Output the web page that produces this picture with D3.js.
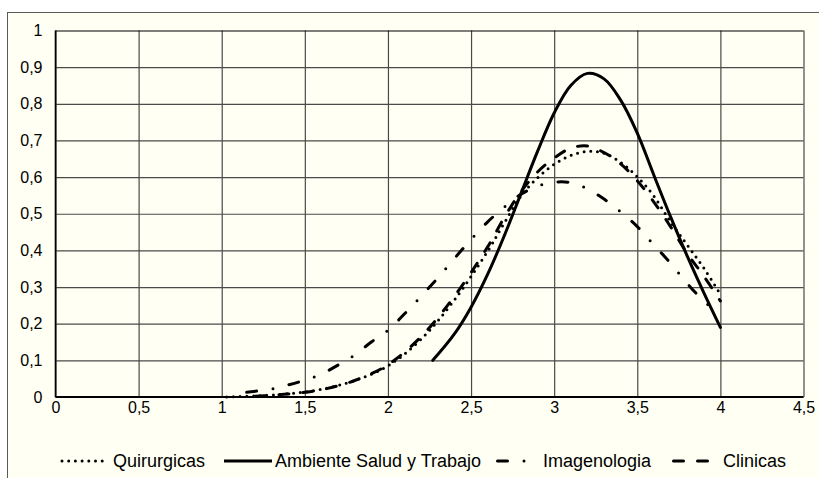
<!DOCTYPE html>
<html><head><meta charset="utf-8">
<script src="https://cdn.jsdelivr.net/npm/d3@7"></script>
<style>
html,body{margin:0;padding:0;background:#fff;}
svg{display:block;}
text{font-family:"Liberation Sans",Arial,Helvetica,sans-serif;fill:#000;}
</style></head><body>
<svg id="chart" width="819" height="478"></svg>
<script>
// ---- data ----
const xTicks = [0, 0.5, 1, 1.5, 2, 2.5, 3, 3.5, 4, 4.5];
const xTickLabels = ["0", "0,5", "1", "1,5", "2", "2,5", "3", "3,5", "4", "4,5"];
const yTicks = [0, 0.1, 0.2, 0.3, 0.4, 0.5, 0.6, 0.7, 0.8, 0.9, 1];
const yTickLabels = ["0", "0,1", "0,2", "0,3", "0,4", "0,5", "0,6", "0,7", "0,8", "0,9", "1"];
const seriesNames = ["Quirurgicas", "Ambiente Salud y Trabajo", "Imagenologia", "Clinicas"];

const quirurgicasX = [1.03, 1.2, 1.4, 1.6, 1.8, 2.0, 2.2, 2.4, 2.6, 2.7, 2.8, 2.9, 3.0, 3.1, 3.2, 3.3, 3.4, 3.5, 3.6, 3.7, 3.8, 3.9, 4.0];
const quirurgicasY = [0, 0.003, 0.009, 0.021, 0.045, 0.085, 0.158, 0.265, 0.398, 0.475, 0.548, 0.598, 0.635, 0.659, 0.670, 0.665, 0.640, 0.601, 0.548, 0.478, 0.415, 0.352, 0.28];

const ambienteX = [2.27, 2.4, 2.5, 2.6, 2.7, 2.8, 2.9, 3.0, 3.1, 3.2, 3.3, 3.4, 3.5, 3.6, 3.7, 3.8, 3.9, 4.0];
const ambienteY = [0.10, 0.172, 0.245, 0.335, 0.44, 0.555, 0.67, 0.775, 0.85, 0.883, 0.868, 0.81, 0.72, 0.605, 0.492, 0.385, 0.285, 0.19];

const imagenologiaX = [1.15, 1.3, 1.4, 1.5, 1.6, 1.7, 1.8, 1.9, 2.0, 2.1, 2.2, 2.3, 2.4, 2.5, 2.6, 2.7, 2.8, 2.9, 3.0, 3.1, 3.2, 3.3, 3.4, 3.5, 3.6, 3.7, 3.8, 3.9, 4.0];
const imagenologiaY = [0.013, 0.022, 0.033, 0.046, 0.063, 0.087, 0.115, 0.15, 0.182, 0.227, 0.275, 0.325, 0.378, 0.43, 0.478, 0.518, 0.553, 0.575, 0.586, 0.585, 0.568, 0.54, 0.505, 0.465, 0.415, 0.365, 0.31, 0.262, 0.225];

const clinicasX = [1.2, 1.4, 1.6, 1.8, 2.0, 2.2, 2.4, 2.6, 2.7, 2.8, 2.9, 3.0, 3.1, 3.2, 3.3, 3.4, 3.5, 3.6, 3.7, 3.8, 3.9, 4.0];
const clinicasY = [0.002, 0.008, 0.02, 0.045, 0.088, 0.165, 0.275, 0.41, 0.49, 0.56, 0.614, 0.652, 0.679, 0.685, 0.667, 0.636, 0.59, 0.532, 0.465, 0.392, 0.33, 0.262];

// ---- layout ----
const svg = d3.select("#chart");
const plot = {left: 55.5, right: 803.5, top: 30.5, bottom: 397};
const bg = "#FFFFF3";

svg.append("rect").attr("x", 7.5).attr("y", 12.5).attr("width", 840).attr("height", 500)
  .attr("fill", bg).attr("stroke", "#5a5a5a").attr("stroke-width", 1);

const x = d3.scaleLinear().domain([0, 4.5]).range([plot.left, plot.right]);
const y = d3.scaleLinear().domain([0, 1]).range([plot.bottom, plot.top]);

// vertical grid + x labels
const xAxis = d3.axisBottom(x).tickValues(xTicks)
  .tickFormat((d, i) => xTickLabels[i])
  .tickSize(-(plot.bottom - plot.top)).tickPadding(5);
const gx = svg.append("g").attr("transform", `translate(0,${plot.bottom})`).call(xAxis);
gx.select(".domain").remove();
gx.selectAll("line").attr("stroke", "#4a4a4a").attr("stroke-width", 1.2);
gx.selectAll("text").attr("font-size", 16).attr("font-family", '"Liberation Sans",Arial,sans-serif').attr("fill", "#000");

// horizontal grid + y labels
const yAxis = d3.axisLeft(y).tickValues(yTicks)
  .tickFormat((d, i) => yTickLabels[i])
  .tickSize(-(plot.right - plot.left)).tickPadding(13);
const gy = svg.append("g").attr("transform", `translate(${plot.left},0)`).call(yAxis);
gy.select(".domain").remove();
gy.selectAll("line").attr("stroke", "#4a4a4a").attr("stroke-width", 1.2);
gy.selectAll(".tick").filter(d => d === 1).select("line").attr("stroke", "#000");
gy.selectAll("text").attr("font-size", 16).attr("font-family", '"Liberation Sans",Arial,sans-serif').attr("fill", "#000");

// axis lines
svg.append("line").attr("x1", plot.left).attr("x2", plot.left).attr("y1", plot.top).attr("y2", plot.bottom)
  .attr("stroke", "#000").attr("stroke-width", 1.6);
svg.append("line").attr("x1", plot.left).attr("x2", plot.right).attr("y1", plot.bottom).attr("y2", plot.bottom)
  .attr("stroke", "#000").attr("stroke-width", 2.2);

// series
const styles = [
  {dash: "0 6.7"},
  {dash: null},
  {dash: "10 16.5 0 16.5"},
  {dash: "10 14"}
];
const seriesData = [
  d3.zip(quirurgicasX, quirurgicasY),
  d3.zip(ambienteX, ambienteY),
  d3.zip(imagenologiaX, imagenologiaY),
  d3.zip(clinicasX, clinicasY)
];
const line = d3.line().x(d => x(d[0])).y(d => y(d[1])).curve(d3.curveCatmullRom.alpha(0.5));
seriesData.forEach((data, i) => {
  svg.append("path").datum(data).attr("d", line)
    .attr("fill", "none").attr("stroke", "#000").attr("stroke-width", 3)
    .attr("stroke-linecap", "round").attr("stroke-linejoin", "round")
    .attr("stroke-dasharray", styles[i].dash);
});

// legend
const legendY = 461;
const legendLayout = [
  {x1: 62, x2: 105, tx: 113},
  {x1: 224, x2: 272, tx: 275},
  {x1: 497.5, x2: 539, tx: 543},
  {x1: 673.5, x2: 710, tx: 723}
];
const lg = svg.append("g");
seriesNames.forEach((name, i) => {
  const L = legendLayout[i];
  lg.append("line").attr("x1", L.x1).attr("x2", L.x2).attr("y1", legendY).attr("y2", legendY)
    .attr("stroke", "#000").attr("stroke-width", 3).attr("stroke-linecap", i === 1 ? "butt" : "round")
    .attr("stroke-dasharray", styles[i].dash);
  lg.append("text").attr("x", L.tx).attr("y", legendY).attr("dy", "0.36em")
    .attr("font-size", 18).text(name);
});
</script>
</body></html>
